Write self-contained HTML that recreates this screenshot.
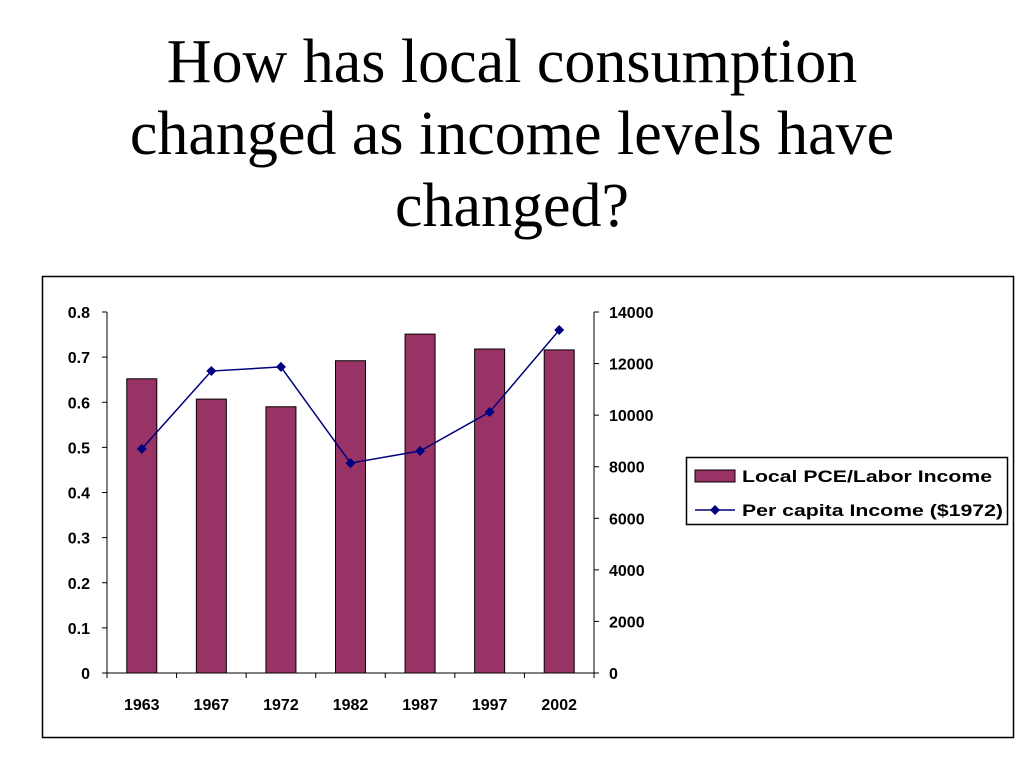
<!DOCTYPE html>
<html><head><meta charset="utf-8"><style>
body{margin:0;width:1024px;height:768px;background:#fff;overflow:hidden;font-family:"Liberation Sans",sans-serif}
#title{position:absolute;left:0;top:26px;width:1024px;text-align:center;font-family:"Liberation Serif",serif;font-size:62px;line-height:72px;color:#000}
svg{position:absolute;left:0;top:0}
</style></head><body>
<div id="title">How has local consumption<br>changed as income levels have<br>changed?</div>
<svg id="chart" width="1024" height="768"></svg>
<script>
const categories=["1963","1967","1972","1982","1987","1997","2002"];
const pceRatio=[0.652,0.607,0.590,0.692,0.751,0.718,0.716];
const perCapita=[8690,11710,11870,8140,8610,10120,13300];
const leftTicks=[0,0.1,0.2,0.3,0.4,0.5,0.6,0.7,0.8];
const rightTicks=[0,2000,4000,6000,8000,10000,12000,14000];
const NS="http://www.w3.org/2000/svg";
const svg=document.getElementById('chart');
const X0=107,X1=594,Y0=673,Y1=312;
const bw=(X1-X0)/categories.length;
const yL=v=>Y0-(v/0.8)*(Y0-Y1);
const yR=v=>Y0-(v/14000)*(Y0-Y1);
const xc=i=>X0+bw*(i+0.5);
function mk(t,a,txt){const e=document.createElementNS(NS,t);for(const k in a)e.setAttribute(k,a[k]);if(txt!==undefined)e.textContent=txt;svg.appendChild(e);return e;}
let e=mk('rect',{x:42.5,y:276.5,width:971,height:461,fill:'none',stroke:'#000','stroke-width':1.5});


pceRatio.forEach((v,i)=>{const r=mk('rect',{x:xc(i)-15,y:yL(v),width:30,height:Y0-yL(v),fill:'#993366',stroke:'#000','stroke-width':1});

});
e=mk('line',{x1:X0,y1:Y1,x2:X0,y2:Y0,stroke:'#000'});


e=mk('line',{x1:X1,y1:Y1,x2:X1,y2:Y0,stroke:'#000'});


e=mk('line',{x1:X0,y1:Y0,x2:X1,y2:Y0,stroke:'#000'});


leftTicks.forEach(v=>{mk('line',{x1:X0-5,y1:yL(v),x2:X0,y2:yL(v),stroke:'#000'});
const t=mk('text',{x:90,y:yL(v)+6,'text-anchor':'end','font-size':16,'font-weight':'bold'},String(v));

});
rightTicks.forEach(v=>{mk('line',{x1:X1,y1:yR(v),x2:X1+5,y2:yR(v),stroke:'#000'});
const t=mk('text',{x:609,y:yR(v)+6,'font-size':16,'font-weight':'bold'},String(v));

});
for(let i=0;i<=categories.length;i++)mk('line',{x1:X0+bw*i,y1:Y0,x2:X0+bw*i,y2:Y0+5,stroke:'#000'});
categories.forEach((c,i)=>{const t=mk('text',{x:xc(i),y:710,'text-anchor':'middle','font-size':16,'font-weight':'bold'},c);

});
e=mk('polyline',{points:perCapita.map((v,i)=>xc(i)+','+yR(v)).join(' '),fill:'none',stroke:'#000080','stroke-width':1.5});


perCapita.forEach((v,i)=>{const x=xc(i),y=yR(v);const p=mk('polygon',{points:`${x},${y-5} ${x+5},${y} ${x},${y+5} ${x-5},${y}`,fill:'#000080'});

});
e=mk('rect',{x:686.5,y:457.5,width:321,height:67,fill:'#fff',stroke:'#000','stroke-width':1.5});


mk('rect',{x:695,y:470,width:40,height:12,fill:'#993366',stroke:'#000'});
e=mk('text',{x:742,y:482,'font-size':17,'font-weight':'bold',textLength:250,lengthAdjust:'spacingAndGlyphs'},'Local PCE/Labor Income');


mk('line',{x1:695,y1:510,x2:735,y2:510,stroke:'#000080','stroke-width':1.5});
mk('polygon',{points:'715,505 720,510 715,515 710,510',fill:'#000080'});
e=mk('text',{x:742,y:516,'font-size':17,'font-weight':'bold',textLength:261,lengthAdjust:'spacingAndGlyphs'},'Per capita Income ($1972)');


</script>
</body></html>
